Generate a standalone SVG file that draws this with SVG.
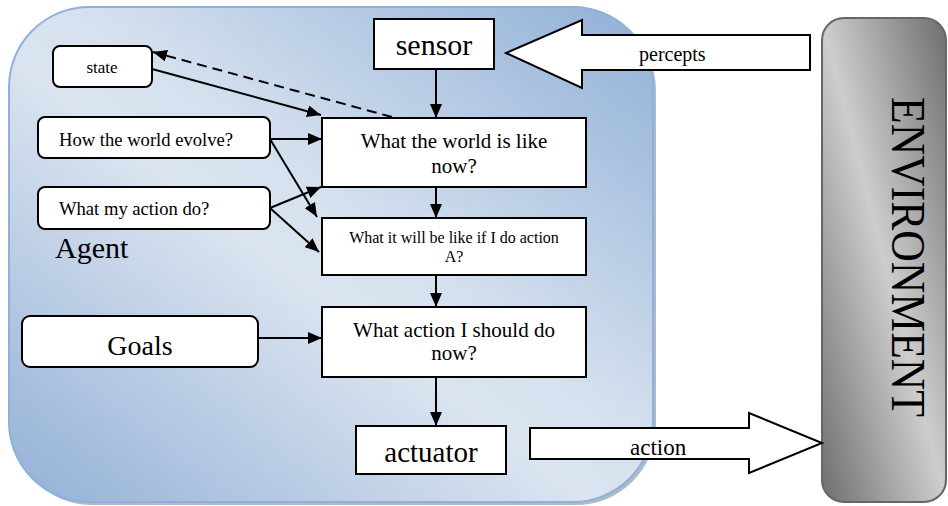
<svg xmlns="http://www.w3.org/2000/svg" width="948" height="506" viewBox="0 0 948 506" font-family="'Liberation Serif', 'Times New Roman', 'DejaVu Serif', serif">
<defs>
<linearGradient id="agentGrad" x1="1" y1="0" x2="0" y2="1">
<stop offset="0" stop-color="#8fafd6"/>
<stop offset="0.45" stop-color="#d6e1ef"/>
<stop offset="0.55" stop-color="#dbe4f0"/>
<stop offset="1" stop-color="#92b0d6"/>
</linearGradient>
<linearGradient id="envGrad" x1="1" y1="0" x2="0" y2="1">
<stop offset="0" stop-color="#6e6e6e"/>
<stop offset="0.5" stop-color="#cdcdcd"/>
<stop offset="1" stop-color="#6e6e6e"/>
</linearGradient>
<marker id="ah" viewBox="0 0 14 12" refX="14" refY="6" markerWidth="14" markerHeight="12" markerUnits="userSpaceOnUse" orient="auto">
<path d="M0,0 L14,6 L0,12 Z" fill="#000"/>
</marker>
<style>
text{fill:#000}
.box{fill:#fff;stroke:#000;stroke-width:2}
.con{stroke:#000;stroke-width:2;fill:none;marker-end:url(#ah)}
.dash{stroke-dasharray:10 6}
.big{fill:#fff;stroke:#000;stroke-width:2;stroke-linejoin:miter}
</style>
</defs>
<g id="agent">
<rect x="12" y="10" width="644" height="495" rx="80" fill="#8d9cb0" opacity="0.7"/>
<rect x="9" y="7" width="644" height="495" rx="80" fill="url(#agentGrad)" stroke="#8fb0d9" stroke-width="2"/>
<text x="55" y="258" font-size="30">Agent</text>
</g>
<g id="environment">
<rect x="822" y="18" width="124" height="484" rx="22" fill="url(#envGrad)" stroke="#666" stroke-width="2"/>
<text transform="translate(892,97) rotate(90)" font-size="48" textLength="320" lengthAdjust="spacingAndGlyphs">ENVIRONMENT</text>
</g>
<g id="percepts">
<polygon class="big" points="810,35 582,35 582,20 506,53 582,88 582,70 810,70"/>
<text x="639" y="61" font-size="20">percepts</text>
</g>
<g id="action">
<polygon class="big" points="530,428 749,428 749,413 822,443 749,473 749,459 530,459"/>
<text x="630" y="455" font-size="23">action</text>
</g>
<g id="state">
<rect class="box" x="53" y="46" width="99" height="41" rx="7"/>
<text x="102" y="73" font-size="17" text-anchor="middle">state</text>
</g>
<g id="how-world-evolve">
<rect class="box" x="38" y="117" width="232" height="41" rx="7"/>
<text x="59" y="146" font-size="18.6">How the world evolve?</text>
</g>
<g id="what-my-action">
<rect class="box" x="38" y="187" width="232" height="42" rx="7"/>
<text x="59" y="215" font-size="18.6">What my action do?</text>
</g>
<g id="goals">
<rect class="box" x="22" y="316" width="236" height="51" rx="8"/>
<text x="140" y="355" font-size="28" text-anchor="middle">Goals</text>
</g>
<g id="sensor">
<rect class="box" x="374" y="19" width="120" height="50"/>
<text x="434" y="55" font-size="30" text-anchor="middle">sensor</text>
</g>
<g id="world-now">
<rect class="box" x="322" y="118" width="264" height="69"/>
<text x="454" y="148" font-size="21" text-anchor="middle">What the world is like</text>
<text x="454" y="173" font-size="21" text-anchor="middle">now?</text>
</g>
<g id="world-if-action">
<rect class="box" x="322" y="218" width="264" height="57"/>
<text x="454" y="243" font-size="16" text-anchor="middle">What it will be like if I do action</text>
<text x="454" y="262" font-size="16" text-anchor="middle">A?</text>
</g>
<g id="action-now">
<rect class="box" x="322" y="307" width="264" height="70"/>
<text x="454" y="337" font-size="21" text-anchor="middle">What action I should do</text>
<text x="454" y="360" font-size="21" text-anchor="middle">now?</text>
</g>
<g id="actuator">
<rect class="box" x="356" y="426" width="150" height="48"/>
<text x="431" y="462" font-size="29" text-anchor="middle">actuator</text>
</g>
<g id="connectors">
<line class="con" x1="436" y1="69" x2="436" y2="118"/>
<line class="con" x1="436" y1="187" x2="436" y2="218"/>
<line class="con" x1="436" y1="275" x2="436" y2="307"/>
<line class="con" x1="436" y1="377" x2="436" y2="426"/>
<line class="con" x1="152" y1="69" x2="321" y2="115"/>
<line class="con dash" x1="392" y1="117" x2="153" y2="52"/>
<line class="con" x1="270" y1="139" x2="322" y2="139"/>
<line class="con" x1="270" y1="139" x2="317" y2="217"/>
<line class="con" x1="270" y1="208" x2="321" y2="187"/>
<line class="con" x1="270" y1="208" x2="319" y2="252"/>
<line class="con" x1="258" y1="338" x2="322" y2="338"/>
</g>
</svg>
